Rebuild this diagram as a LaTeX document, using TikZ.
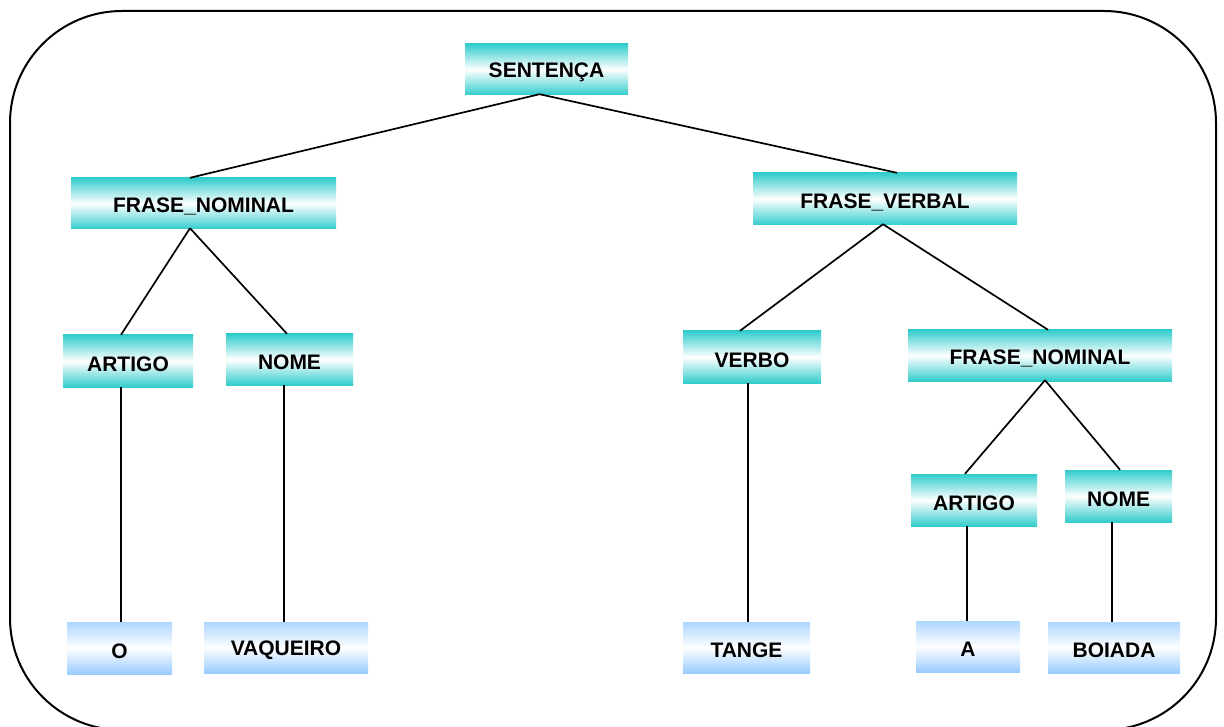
\documentclass[tikz,border=0pt]{standalone}
\usepackage{fontspec}
\setmainfont{Liberation Sans}
\usetikzlibrary{calc}
\definecolor{tealc}{RGB}{51,204,204}
\definecolor{bluec}{RGB}{153,204,255}
\tikzset{
  tbox/.style={top color=tealc, bottom color=tealc, middle color=white, draw=none},
  bbox/.style={top color=bluec!80, bottom color=bluec, middle color=white, draw=none},
  lbl/.style={font=\fontsize{21}{24}\selectfont\bfseries, inner sep=0pt},
  edge/.style={line width=1.7pt, black},
}
% a shaded box from its pixel corners, named #1, with its text #6 (node #1-t)
\newcommand{\pbox}[7]{%
  \path[#7] (#2,#3) rectangle (#4,#5);
  \node[lbl, minimum width=#4pt-#2pt, minimum height=#5pt-#3pt] (#1) at ({(#2+#4)/2},{(#3+#5)/2}) {};
  \node[lbl] (#1-t) at ($(#1.center)+(0,3)$) {#6};
}
\begin{document}
\begin{tikzpicture}[x=1pt,y=-1pt]
\useasboundingbox (0,0) rectangle (1224,727);
\clip (0,0) rectangle (1224,727);
\draw[line width=2pt, rounded corners=112pt] (10,11) rectangle (1216,730);

\pbox{s}{465}{44}{628}{95}{SENTENÇA}{tbox}
\pbox{fnl}{71}{178}{336}{229}{FRASE\_NOMINAL}{tbox}
\pbox{fv}{753}{173}{1017}{225}{FRASE\_VERBAL}{tbox}
\pbox{artl}{63}{335}{193}{387}{ARTIGO}{tbox}
\pbox{nomel}{226}{334}{353}{385}{NOME}{tbox}
\pbox{verbo}{683}{331}{821}{383}{VERBO}{tbox}
\pbox{fnr}{908}{330}{1172}{381}{FRASE\_NOMINAL}{tbox}
\pbox{artr}{911}{474}{1037}{526}{ARTIGO}{tbox}
\pbox{nomer}{1065}{470}{1172}{522}{NOME}{tbox}
\pbox{o}{67}{622}{172}{674}{O}{bbox}
\pbox{vaq}{204}{622}{368}{673}{VAQUEIRO}{bbox}
\pbox{tange}{683}{622}{810}{673}{TANGE}{bbox}
\pbox{a}{916}{621}{1020}{672}{A}{bbox}
\pbox{boiada}{1048}{622}{1180}{673}{BOIADA}{bbox}

\draw[edge] ($(s.south)+(-7,-1)$) -- ($(fnl.north)+(-13.5,0)$);
\draw[edge] ($(s.south)+(-7,-1)$) -- ($(fv.north)+(12,0)$);
\draw[edge] ($(fnl.south)+(-13.5,-1)$) -- ($(artl.north)+(-7,0)$);
\draw[edge] ($(fnl.south)+(-13.5,-1)$) -- ($(nomel.north)+(-2.5,0)$);
\draw[edge] ($(fv.south)+(-2,-1)$) -- ($(verbo.north)+(-12,0)$);
\draw[edge] ($(fv.south)+(-2,-1)$) -- ($(fnr.north)+(8,0)$);
\draw[edge] ($(fnr.south)+(5,-1)$) -- ($(artr.north)+(-9,0)$);
\draw[edge] ($(fnr.south)+(5,-1)$) -- ($(nomer.north)+(1.5,0)$);
\draw[edge] ($(artl.south)+(-7,0)$) -- ($(o.north)+(1.5,0)$);
\draw[edge] ($(nomel.south)+(-5.5,0)$) -- ($(vaq.north)+(-2,0)$);
\draw[edge] ($(verbo.south)+(-4,0)$) -- ($(tange.north)+(1.5,0)$);
\draw[edge] ($(artr.south)+(-7,0)$) -- ($(a.north)+(-1,0)$);
\draw[edge] ($(nomer.south)+(-6.5,0)$) -- ($(boiada.north)+(-2,0)$);
\end{tikzpicture}
\end{document}
